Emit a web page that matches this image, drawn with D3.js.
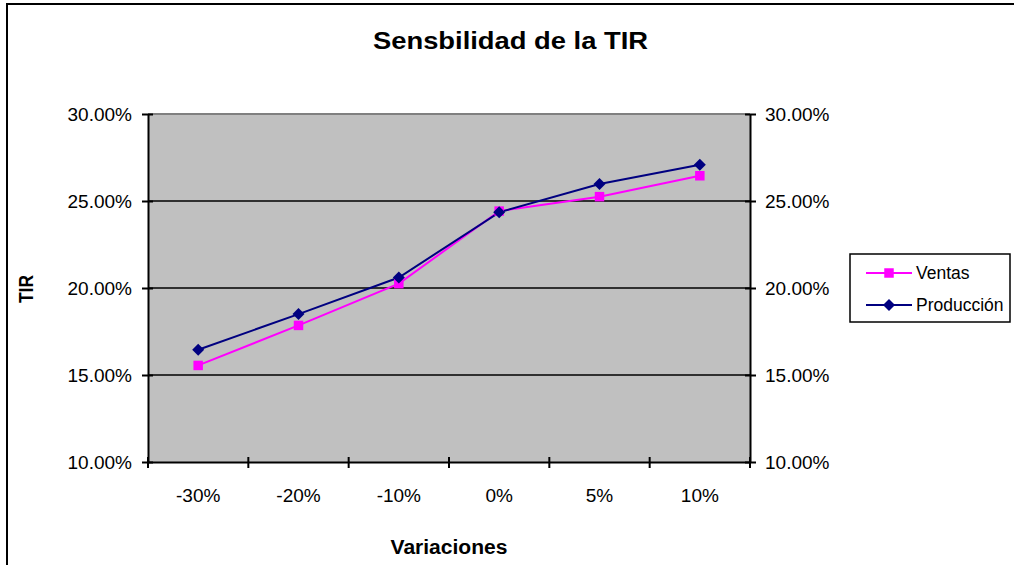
<!DOCTYPE html>
<html>
<head>
<meta charset="utf-8">
<script src="https://cdn.jsdelivr.net/npm/d3@7"></script>
<style>
  html, body { margin: 0; padding: 0; background: #fff; }
  svg { display: block; font-family: Arial, "Liberation Sans", sans-serif; }
</style>
</head>
<body>
<svg id="chart" width="1014" height="565"></svg>
<script>
// Variation scenarios and resulting IRR (TIR) for each sensitivity series
const categories = ["-30%", "-20%", "-10%", "0%", "5%", "10%"];
const ventas     = [15.55, 17.85, 20.25, 24.42, 25.25, 26.45];
const produccion = [16.45, 18.5, 20.6, 24.35, 25.98, 27.08];
const yTicks     = [10, 15, 20, 25, 30];

const svg = d3.select("#chart");

const plot = { left: 148, right: 750, top: 114, bottom: 462 };

const x = d3.scaleBand().domain(categories).range([plot.left, plot.right]);
const y = d3.scaleLinear().domain([10, 30]).range([plot.bottom, plot.top]);
const fmt = d => d.toFixed(2) + "%";

// outer chart frame
svg.append("rect")
  .attr("x", 7).attr("y", 4).attr("width", 1030).attr("height", 580)
  .attr("fill", "#fff").attr("stroke", "#000").attr("stroke-width", 2);

// plot background
svg.append("rect")
  .attr("x", plot.left).attr("y", plot.top)
  .attr("width", plot.right - plot.left).attr("height", plot.bottom - plot.top)
  .attr("fill", "#c0c0c0");

// horizontal gridlines
svg.append("g").selectAll("line")
  .data(yTicks.filter(t => t > 10 && t < 30))
  .join("line")
  .attr("x1", plot.left).attr("x2", plot.right)
  .attr("y1", d => y(d)).attr("y2", d => y(d))
  .attr("stroke", "#000").attr("stroke-width", 1.5);

// top border of plot area
svg.append("line")
  .attr("x1", plot.left).attr("x2", plot.right)
  .attr("y1", plot.top).attr("y2", plot.top)
  .attr("stroke", "#808080").attr("stroke-width", 2);

// left axis
const leftAxis = d3.axisLeft(y).tickValues(yTicks).tickFormat(fmt)
  .tickSizeInner(6).tickSizeOuter(0).tickPadding(10);
const gl = svg.append("g").attr("transform", `translate(${plot.left},0)`).call(leftAxis);

// right axis
const rightAxis = d3.axisRight(y).tickValues(yTicks).tickFormat(fmt)
  .tickSizeInner(6).tickSizeOuter(0).tickPadding(9);
const gr = svg.append("g").attr("transform", `translate(${plot.right},0)`).call(rightAxis);

// bottom axis, ticks on category boundaries
const gb = svg.append("g").attr("transform", `translate(0,${plot.bottom})`);
gb.call(d3.axisBottom(x).tickSize(0).tickPadding(27));
gb.selectAll(".tick line").remove();
gb.append("g").selectAll("line")
  .data(categories.map(c => x(c)).concat([plot.right]))
  .join("line")
  .attr("x1", d => d).attr("x2", d => d)
  .attr("y1", -5).attr("y2", 6)
  .attr("stroke", "#000").attr("stroke-width", 2);

[gl, gr, gb].forEach(g => {
  g.select(".domain").attr("stroke", "#000").attr("stroke-width", 2);
  g.selectAll(".tick line").attr("stroke", "#000").attr("stroke-width", 2);
  g.selectAll(".tick text").attr("fill", "#000").attr("font-size", 19)
    .attr("font-family", "Arial, 'Liberation Sans', sans-serif");
});
// cross ticks on the value axes
gl.selectAll(".tick line").attr("x1", 5);
gr.selectAll(".tick line").attr("x1", -5);
gl.selectAll(".tick text").attr("dy", "0.36em");
gr.selectAll(".tick text").attr("dy", "0.36em");

// series lines and markers
const cx = c => x(c) + x.bandwidth() / 2;
const line = d3.line().x((d, i) => cx(categories[i])).y(d => y(d));

svg.append("path").datum(ventas).attr("d", line)
  .attr("fill", "none").attr("stroke", "#ff00ff").attr("stroke-width", 2);
svg.append("path").datum(produccion).attr("d", line)
  .attr("fill", "none").attr("stroke", "#000080").attr("stroke-width", 2);

const square = d3.symbol().type(d3.symbolSquare).size(90);
const diamond = (cxp, cyp, r) => `M${cxp},${cyp - r}L${cxp + r},${cyp}L${cxp},${cyp + r}L${cxp - r},${cyp}Z`;

svg.append("g").selectAll("path")
  .data(ventas).join("path")
  .attr("d", square)
  .attr("transform", (d, i) => `translate(${cx(categories[i])},${y(d)})`)
  .attr("fill", "#ff00ff");

svg.append("g").selectAll("path")
  .data(produccion).join("path")
  .attr("d", (d, i) => diamond(cx(categories[i]), y(d), 6))
  .attr("fill", "#000080");

// titles
svg.append("text")
  .attr("x", 510.5).attr("y", 49).attr("text-anchor", "middle")
  .attr("font-size", 24).attr("font-weight", "bold")
  .attr("textLength", 275).attr("lengthAdjust", "spacingAndGlyphs")
  .text("Sensbilidad de la TIR");

svg.append("text")
  .attr("x", (plot.left + plot.right) / 2).attr("y", 554).attr("text-anchor", "middle")
  .attr("font-size", 20).attr("font-weight", "bold")
  .attr("textLength", 117).attr("lengthAdjust", "spacingAndGlyphs")
  .text("Variaciones");

svg.append("text")
  .attr("transform", "translate(33,289) rotate(-90)")
  .attr("text-anchor", "middle")
  .attr("font-size", 21).attr("font-weight", "bold")
  .attr("textLength", 28).attr("lengthAdjust", "spacingAndGlyphs")
  .text("TIR");

// legend
const legend = svg.append("g");
legend.append("rect")
  .attr("x", 850).attr("y", 254).attr("width", 160).attr("height", 68)
  .attr("fill", "#fff").attr("stroke", "#000").attr("stroke-width", 1.5);

const legendItems = [
  { name: "Ventas", color: "#ff00ff", marker: "square", y: 273 },
  { name: "Producción", color: "#000080", marker: "diamond", y: 305 }
];
legendItems.forEach(it => {
  legend.append("line")
    .attr("x1", 866).attr("x2", 912).attr("y1", it.y).attr("y2", it.y)
    .attr("stroke", it.color).attr("stroke-width", 2);
  if (it.marker === "square") {
    legend.append("path").attr("d", square)
      .attr("transform", `translate(889,${it.y})`).attr("fill", it.color);
  } else {
    legend.append("path").attr("d", diamond(889, it.y, 6)).attr("fill", it.color);
  }
  legend.append("text")
    .attr("x", 916).attr("y", it.y + 6)
    .attr("font-size", 17.5)
    .text(it.name);
});
</script>
</body>
</html>
